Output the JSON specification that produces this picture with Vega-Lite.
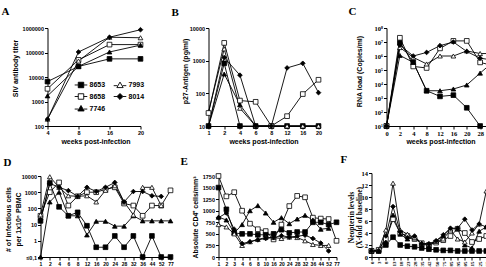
{
 "$schema": "https://vega.github.io/schema/vega-lite/v6.json",
 "padding": {"left": 1.5, "top": 5, "right": 0, "bottom": 0},
 "background": "white",
 "datasets": {
  "A": [
   {"w":4,"id":"8653","v":6500},{"w":8,"id":"8653","v":27000},{"w":16,"id":"8653","v":55000},{"w":20,"id":"8653","v":55000},
   {"w":4,"id":"8658","v":3300},{"w":8,"id":"8658","v":50000},{"w":16,"id":"8658","v":210000},{"w":20,"id":"8658","v":210000},
   {"w":4,"id":"7746","v":1700},{"w":8,"id":"7746","v":27000},{"w":16,"id":"7746","v":105000},{"w":20,"id":"7746","v":200000},
   {"w":4,"id":"7993","v":190},{"w":8,"id":"7993","v":45000},{"w":16,"id":"7993","v":420000},{"w":20,"id":"7993","v":400000},
   {"w":4,"id":"8014","v":190},{"w":8,"id":"8014","v":105000},{"w":16,"id":"8014","v":420000},{"w":20,"id":"8014","v":850000}
  ],
  "B": [
   {"w":1,"id":"8653","v":10},{"w":2,"id":"8653","v":830},{"w":4,"id":"8653","v":10},{"w":6,"id":"8653","v":10},{"w":8,"id":"8653","v":10},{"w":12,"id":"8653","v":10},{"w":16,"id":"8653","v":10},{"w":20,"id":"8653","v":10},
   {"w":1,"id":"7746","v":10},{"w":2,"id":"7746","v":390},{"w":4,"id":"7746","v":45},{"w":6,"id":"7746","v":10},{"w":8,"id":"7746","v":10},{"w":12,"id":"7746","v":10},{"w":16,"id":"7746","v":10},{"w":20,"id":"7746","v":10},
   {"w":1,"id":"7993","v":27},{"w":2,"id":"7993","v":2300},{"w":4,"id":"7993","v":35},{"w":6,"id":"7993","v":10},{"w":8,"id":"7993","v":10},{"w":12,"id":"7993","v":10},{"w":16,"id":"7993","v":10},{"w":20,"id":"7993","v":10},
   {"w":1,"id":"8658","v":25},{"w":2,"id":"8658","v":3500},{"w":4,"id":"8658","v":60},{"w":6,"id":"8658","v":55},{"w":8,"id":"8658","v":10},{"w":12,"id":"8658","v":20},{"w":16,"id":"8658","v":95},{"w":20,"id":"8658","v":260},
   {"w":1,"id":"8014","v":10},{"w":2,"id":"8014","v":1250},{"w":4,"id":"8014","v":360},{"w":6,"id":"8014","v":10},{"w":8,"id":"8014","v":10},{"w":12,"id":"8014","v":600},{"w":16,"id":"8014","v":830},{"w":20,"id":"8014","v":105}
  ],
  "C": [
   {"w":0,"id":"8653","v":10},{"w":2,"id":"8653","v":9000000},{"w":4,"id":"8653","v":350000},{"w":8,"id":"8653","v":3300},{"w":12,"id":"8653","v":1300},{"w":16,"id":"8653","v":1600},{"w":20,"id":"8653","v":200},{"w":28,"id":"8653","v":10},
   {"w":0,"id":"8658","v":10},{"w":2,"id":"8658","v":20000000},{"w":4,"id":"8658","v":180000},{"w":8,"id":"8658","v":140000},{"w":12,"id":"8658","v":3500000},{"w":16,"id":"8658","v":12000000},{"w":20,"id":"8658","v":12000000},{"w":28,"id":"8658","v":350000},{"w":36,"id":"8658","v":200000},
   {"w":0,"id":"7746","v":10},{"w":2,"id":"7746","v":1100000},{"w":4,"id":"7746","v":350000},{"w":8,"id":"7746","v":3300},{"w":12,"id":"7746","v":3300},{"w":16,"id":"7746","v":4400},{"w":20,"id":"7746","v":8500},{"w":28,"id":"7746","v":60000},{"w":36,"id":"7746","v":400000},
   {"w":0,"id":"7993","v":10},{"w":2,"id":"7993","v":4000000},{"w":4,"id":"7993","v":800000},{"w":8,"id":"7993","v":270000},{"w":12,"id":"7993","v":1000000},{"w":16,"id":"7993","v":1000000},{"w":20,"id":"7993","v":2300000},{"w":28,"id":"7993","v":1500000},{"w":36,"id":"7993","v":1500000},
   {"w":0,"id":"8014","v":10},{"w":2,"id":"8014","v":6000000},{"w":4,"id":"8014","v":1000000},{"w":8,"id":"8014","v":1800000},{"w":12,"id":"8014","v":5500000},{"w":16,"id":"8014","v":10000000},{"w":20,"id":"8014","v":2100000},{"w":28,"id":"8014","v":700000},{"w":36,"id":"8014","v":500000}
  ],
  "D": [
   {"w":1,"id":"8653","v":17},{"w":2,"id":"8653","v":3700},{"w":4,"id":"8653","v":125},{"w":6,"id":"8653","v":35},{"w":8,"id":"8653","v":57},{"w":12,"id":"8653","v":8.5},{"w":16,"id":"8653","v":0.4},{"w":20,"id":"8653","v":0.4},{"w":24,"id":"8653","v":2},{"w":28,"id":"8653","v":0.4},{"w":32,"id":"8653","v":2},{"w":36,"id":"8653","v":0.1},{"w":44,"id":"8653","v":2},{"w":52,"id":"8653","v":0.1},{"w":77,"id":"8653","v":0.1},
   {"w":1,"id":"8658","v":35},{"w":2,"id":"8658","v":1000},{"w":4,"id":"8658","v":4000},{"w":6,"id":"8658","v":150},{"w":8,"id":"8658","v":560},{"w":12,"id":"8658","v":1000},{"w":16,"id":"8658","v":1000},{"w":20,"id":"8658","v":1500},{"w":24,"id":"8658","v":2000},{"w":28,"id":"8658","v":200},{"w":32,"id":"8658","v":150},{"w":36,"id":"8658","v":35},{"w":44,"id":"8658","v":150},{"w":52,"id":"8658","v":150},{"w":77,"id":"8658","v":1300},
   {"w":1,"id":"7746","v":0.1},{"w":2,"id":"7746","v":250},{"w":4,"id":"7746","v":1000},{"w":6,"id":"7746","v":35},{"w":8,"id":"7746","v":35},{"w":12,"id":"7746","v":2.3},{"w":16,"id":"7746","v":16},{"w":20,"id":"7746","v":16},{"w":24,"id":"7746","v":8},{"w":28,"id":"7746","v":8},{"w":32,"id":"7746","v":35},{"w":36,"id":"7746","v":17},{"w":44,"id":"7746","v":17},{"w":52,"id":"7746","v":17},{"w":77,"id":"7746","v":17},
   {"w":1,"id":"7993","v":40},{"w":2,"id":"7993","v":9000},{"w":4,"id":"7993","v":2000},{"w":6,"id":"7993","v":600},{"w":8,"id":"7993","v":560},{"w":12,"id":"7993","v":600},{"w":16,"id":"7993","v":250},{"w":20,"id":"7993","v":1300},{"w":24,"id":"7993","v":2500},{"w":28,"id":"7993","v":250},{"w":32,"id":"7993","v":40},{"w":36,"id":"7993","v":2000},{"w":44,"id":"7993","v":2000},{"w":52,"id":"7993","v":150},
   {"w":1,"id":"8014","v":20},{"w":2,"id":"8014","v":3500},{"w":4,"id":"8014","v":2000},{"w":6,"id":"8014","v":1250},{"w":8,"id":"8014","v":560},{"w":12,"id":"8014","v":2000},{"w":16,"id":"8014","v":1100},{"w":20,"id":"8014","v":2000},{"w":24,"id":"8014","v":4000},{"w":28,"id":"8014","v":250},{"w":32,"id":"8014","v":1100},{"w":36,"id":"8014","v":1100},{"w":44,"id":"8014","v":600},{"w":52,"id":"8014","v":550}
  ],
  "E": [
   {"w":1,"id":"8658","v":1750},{"w":2,"id":"8658","v":1310},{"w":3,"id":"8658","v":1400},{"w":4,"id":"8658","v":1000},{"w":6,"id":"8658","v":720},{"w":8,"id":"8658","v":600},{"w":10,"id":"8658","v":560},{"w":16,"id":"8658","v":380},{"w":20,"id":"8658","v":700},{"w":24,"id":"8658","v":1100},{"w":28,"id":"8658","v":1320},{"w":32,"id":"8658","v":1290},{"w":36,"id":"8658","v":850},{"w":44,"id":"8658","v":830},{"w":52,"id":"8658","v":820},{"w":77,"id":"8658","v":350},
   {"w":1,"id":"8653","v":1500},{"w":2,"id":"8653","v":1030},{"w":3,"id":"8653","v":520},{"w":4,"id":"8653","v":500},{"w":6,"id":"8653","v":500},{"w":8,"id":"8653","v":480},{"w":10,"id":"8653","v":480},{"w":16,"id":"8653","v":500},{"w":20,"id":"8653","v":590},{"w":24,"id":"8653","v":520},{"w":28,"id":"8653","v":540},{"w":32,"id":"8653","v":540},{"w":36,"id":"8653","v":750},{"w":44,"id":"8653","v":750},{"w":52,"id":"8653","v":700},{"w":77,"id":"8653","v":750},
   {"w":1,"id":"7746","v":860},{"w":2,"id":"7746","v":800},{"w":3,"id":"7746","v":520},{"w":4,"id":"7746","v":700},{"w":6,"id":"7746","v":1000},{"w":8,"id":"7746","v":1110},{"w":10,"id":"7746","v":950},{"w":16,"id":"7746","v":750},{"w":20,"id":"7746","v":850},{"w":24,"id":"7746","v":720},{"w":28,"id":"7746","v":820},{"w":32,"id":"7746","v":900},{"w":36,"id":"7746","v":800},{"w":44,"id":"7746","v":600},{"w":52,"id":"7746","v":620},
   {"w":1,"id":"7993","v":700},{"w":2,"id":"7993","v":650},{"w":3,"id":"7993","v":500},{"w":4,"id":"7993","v":250},{"w":6,"id":"7993","v":330},{"w":8,"id":"7993","v":380},{"w":10,"id":"7993","v":420},{"w":16,"id":"7993","v":420},{"w":20,"id":"7993","v":400},{"w":24,"id":"7993","v":430},{"w":28,"id":"7993","v":420},{"w":32,"id":"7993","v":350},{"w":36,"id":"7993","v":270},{"w":44,"id":"7993","v":250},{"w":52,"id":"7993","v":250},
   {"w":1,"id":"8014","v":850},{"w":2,"id":"8014","v":950},{"w":3,"id":"8014","v":600},{"w":4,"id":"8014","v":290},{"w":6,"id":"8014","v":330},{"w":8,"id":"8014","v":370},{"w":10,"id":"8014","v":400},{"w":16,"id":"8014","v":420},{"w":20,"id":"8014","v":460},{"w":24,"id":"8014","v":430},{"w":28,"id":"8014","v":450},{"w":32,"id":"8014","v":470},{"w":36,"id":"8014","v":400},{"w":44,"id":"8014","v":300},{"w":52,"id":"8014","v":130}
  ],
  "F": [
   {"w":0,"id":"8653","v":1},{"w":3,"id":"8653","v":1},{"w":8,"id":"8653","v":2},{"w":13,"id":"8653","v":3.3},{"w":18,"id":"8653","v":2},{"w":23,"id":"8653","v":1.8},{"w":28,"id":"8653","v":1.7},{"w":35,"id":"8653","v":1.5},{"w":42,"id":"8653","v":1.3},{"w":50,"id":"8653","v":1.2},{"w":75,"id":"8653","v":1.1},{"w":85,"id":"8653","v":1.1},{"w":95,"id":"8653","v":1},{"w":105,"id":"8653","v":1},{"w":115,"id":"8653","v":1},{"w":125,"id":"8653","v":1},{"w":135,"id":"8653","v":1},{"w":145,"id":"8653","v":1},
   {"w":0,"id":"8658","v":1},{"w":3,"id":"8658","v":1.2},{"w":8,"id":"8658","v":3},{"w":13,"id":"8658","v":6.3},{"w":18,"id":"8658","v":4},{"w":23,"id":"8658","v":3.5},{"w":28,"id":"8658","v":3},{"w":35,"id":"8658","v":2.3},{"w":42,"id":"8658","v":2},{"w":50,"id":"8658","v":2.4},{"w":75,"id":"8658","v":2.8},{"w":85,"id":"8658","v":3.5},{"w":95,"id":"8658","v":4.7},{"w":105,"id":"8658","v":4},{"w":115,"id":"8658","v":2.5},{"w":125,"id":"8658","v":3},{"w":135,"id":"8658","v":3.5},{"w":145,"id":"8658","v":4},
   {"w":0,"id":"7746","v":1},{"w":3,"id":"7746","v":1},{"w":8,"id":"7746","v":2.5},{"w":13,"id":"7746","v":7},{"w":18,"id":"7746","v":3.8},{"w":23,"id":"7746","v":3},{"w":28,"id":"7746","v":3.2},{"w":35,"id":"7746","v":2.3},{"w":42,"id":"7746","v":1.8},{"w":50,"id":"7746","v":2.7},{"w":75,"id":"7746","v":3.5},{"w":85,"id":"7746","v":4.7},{"w":95,"id":"7746","v":4.7},{"w":105,"id":"7746","v":2},{"w":115,"id":"7746","v":1.5},{"w":125,"id":"7746","v":4.3},{"w":135,"id":"7746","v":5},{"w":145,"id":"7746","v":5},
   {"w":0,"id":"7993","v":1},{"w":3,"id":"7993","v":1.2},{"w":8,"id":"7993","v":4.5},{"w":13,"id":"7993","v":12.3},{"w":18,"id":"7993","v":4.5},{"w":23,"id":"7993","v":3.8},{"w":28,"id":"7993","v":3.2},{"w":35,"id":"7993","v":2.3},{"w":42,"id":"7993","v":2.2},{"w":50,"id":"7993","v":2.6},{"w":75,"id":"7993","v":3},{"w":85,"id":"7993","v":4.5},{"w":95,"id":"7993","v":3},{"w":105,"id":"7993","v":2.5},{"w":115,"id":"7993","v":4},{"w":125,"id":"7993","v":5.5},{"w":135,"id":"7993","v":11},{"w":145,"id":"7993","v":12},
   {"w":0,"id":"8014","v":1},{"w":3,"id":"8014","v":1},{"w":8,"id":"8014","v":3.5},{"w":13,"id":"8014","v":8.4},{"w":18,"id":"8014","v":4.2},{"w":23,"id":"8014","v":3.2},{"w":28,"id":"8014","v":3.5},{"w":35,"id":"8014","v":2.2},{"w":42,"id":"8014","v":2.2},{"w":50,"id":"8014","v":2.7},{"w":75,"id":"8014","v":3.7},{"w":85,"id":"8014","v":4.8},{"w":95,"id":"8014","v":4.8},{"w":105,"id":"8014","v":6.3},{"w":115,"id":"8014","v":4.5},{"w":125,"id":"8014","v":5.5},{"w":135,"id":"8014","v":5},{"w":145,"id":"8014","v":5}
  ]
 },
 "vconcat": [
  {
   "hconcat": [
    {
     "width": 100, "height": 98,
     "title": {"text": "A", "dx": -39, "dy": -4.5},
     "data": {"name": "A"},
     "encoding": {
      "x": {"field": "w", "type": "ordinal", "scale": {"type": "point", "padding": 0, "domain": [4, 8, 16, 20], "range": [7, 100]}, "axis": {"title": "weeks post-infection", "titleX": 55, "titleY": 15, "titleBaseline": "middle"}},
      "y": {"field": "v", "type": "quantitative", "scale": {"type": "log", "domain": [100, 1000000], "nice": false}, "axis": {"title": "SIV antibody titer", "values": [100, 1000, 10000, 100000, 1000000], "format": "d", "offset": -7, "titleX": -32, "titleY": 40, "titleBaseline": "middle"}}
     },
     "layer": [
      {"mark": {"type": "line", "stroke": "black", "strokeWidth": 0.9}, "encoding": {"detail": {"field": "id"}}},
      {"mark": {"type": "point", "filled": true, "stroke": "black", "strokeWidth": 0.8, "size": 22, "opacity": 1},
       "encoding": {
        "shape": {"field": "id", "type": "nominal", "scale": {"domain": ["8653", "8658", "7746", "7993", "8014"], "range": ["square", "square", "triangle-up", "triangle-up", "diamond"]}, "legend": null},
        "fill": {"field": "id", "type": "nominal", "scale": {"domain": ["8653", "8658", "7746", "7993", "8014"], "range": ["black", "white", "black", "white", "black"]}, "legend": null}
       }},
      {"transform": [{"filter": "false"}],
       "mark": {"type": "point", "filled": false, "strokeWidth": 0.9, "size": 30, "opacity": 1},
       "encoding": {
        "stroke": {"field": "id", "type": "nominal", "scale": {"domain": ["8653", "8658", "7746", "7993", "8014"], "range": ["black", "black", "black", "black", "black"]},
         "legend": {"orient": "none", "legendX": 37, "legendY": 53, "columns": 2, "columnPadding": 6, "rowPadding": 1, "title": null, "symbolSize": 30, "symbolStrokeWidth": 0.9, "labelFont": "Liberation Sans", "labelFontSize": 7, "labelFontWeight": "bold", "labelColor": "black", "labelOffset": 5}},
        "shape": {"field": "id", "type": "nominal", "scale": {"domain": ["8653", "8658", "7746", "7993", "8014"], "range": ["M-2.3,0H-1M1,0H2.3M-1,-1H1V1H-1Z", "M-2.3,0H-1M1,0H2.3M-1,-1H1V1H-1Z", "M-2.3,0.2H-0.95M0.95,0.2H2.3M0,-1.1L1.15,0.9H-1.15Z", "M-2.3,0.2H-0.95M0.95,0.2H2.3M0,-1.1L1.15,0.9H-1.15Z", "M-2.3,0H-1.1M1.1,0H2.3M0,-1.1L1.1,0L0,1.1L-1.1,0Z"]},
         "legend": {"orient": "none", "legendX": 37, "legendY": 53, "columns": 2, "columnPadding": 6, "rowPadding": 1, "title": null, "symbolSize": 30, "symbolStrokeWidth": 0.9, "labelFont": "Liberation Sans", "labelFontSize": 7, "labelFontWeight": "bold", "labelColor": "black", "labelOffset": 5}},
        "fill": {"field": "id", "type": "nominal", "scale": {"domain": ["8653", "8658", "7746", "7993", "8014"], "range": ["black", "white", "black", "white", "black"]},
         "legend": {"orient": "none", "legendX": 37, "legendY": 53, "columns": 2, "columnPadding": 6, "rowPadding": 1, "title": null, "symbolSize": 30, "symbolStrokeWidth": 0.9, "labelFont": "Liberation Sans", "labelFontSize": 7, "labelFontWeight": "bold", "labelColor": "black", "labelOffset": 5}}
       }}
     ],
     "resolve": {"scale": {"shape": "independent", "fill": "independent", "stroke": "independent"}, "legend": {"shape": "independent", "fill": "independent", "stroke": "independent"}}
    },
    {
     "width": 110, "height": 98,
     "title": {"text": "B", "dx": -37, "dy": -4.5},
     "data": {"name": "B"},
     "encoding": {
      "x": {"field": "w", "type": "ordinal", "scale": {"type": "point", "padding": 0, "domain": [1, 2, 4, 6, 8, 12, 16, 20]}, "axis": {"title": "weeks post-infection", "titleY": 15, "titleBaseline": "middle"}},
      "y": {"field": "v", "type": "quantitative", "scale": {"type": "log", "domain": [10, 10000], "nice": false}, "axis": {"title": "p27-Antigen (pg/ml)", "values": [10, 100, 1000, 10000], "format": "d", "titleX": -23, "titleY": 43, "titleBaseline": "middle"}}
     },
     "layer": [
      {"mark": {"type": "line", "stroke": "black", "strokeWidth": 0.9}, "encoding": {"detail": {"field": "id"}}},
      {"mark": {"type": "point", "filled": true, "stroke": "black", "strokeWidth": 0.8, "size": 22, "opacity": 1},
       "encoding": {
        "shape": {"field": "id", "type": "nominal", "scale": {"domain": ["8653", "8658", "7746", "7993", "8014"], "range": ["square", "square", "triangle-up", "triangle-up", "diamond"]}, "legend": null},
        "fill": {"field": "id", "type": "nominal", "scale": {"domain": ["8653", "8658", "7746", "7993", "8014"], "range": ["black", "white", "black", "white", "black"]}, "legend": null}
       }}
     ]
    },
    {
     "width": 107, "height": 98,
     "title": {"text": "C", "dx": -38, "dy": -4.5},
     "data": {"name": "C"},
     "encoding": {
      "x": {"field": "w", "type": "ordinal", "scale": {"type": "point", "padding": 0, "domain": [0, 2, 4, 8, 12, 16, 20, 28, 36]}, "axis": {"title": "weeks post-infection", "titleX": 54, "titleY": 15, "titleBaseline": "middle", "labelFont": "Liberation Serif", "labelFontSize": 6.5}},
      "y": {"field": "v", "type": "quantitative", "scale": {"type": "log", "domain": [10, 100000000], "nice": false}, "axis": {"title": "RNA load (Copies/ml)", "values": [10, 100, 1000, 10000, 100000, 1000000, 10000000, 100000000], "labelExpr": "'10' + ['⁰','¹','²','³','⁴','⁵','⁶','⁷','⁸'][round(log(datum.value)/LN10)]", "labelFont": "Liberation Serif", "labelFontSize": 6.5, "titleX": -27, "titleY": 43, "titleBaseline": "middle"}}
     },
     "layer": [
      {"mark": {"type": "line", "stroke": "black", "strokeWidth": 0.9}, "encoding": {"detail": {"field": "id"}}},
      {"mark": {"type": "point", "filled": true, "stroke": "black", "strokeWidth": 0.8, "size": 22, "opacity": 1},
       "encoding": {
        "shape": {"field": "id", "type": "nominal", "scale": {"domain": ["8653", "8658", "7746", "7993", "8014"], "range": ["square", "square", "triangle-up", "triangle-up", "diamond"]}, "legend": null},
        "fill": {"field": "id", "type": "nominal", "scale": {"domain": ["8653", "8658", "7746", "7993", "8014"], "range": ["black", "white", "black", "white", "black"]}, "legend": null}
       }}
     ]
    }
   ],
   "spacing": 68,
   "bounds": "flush"
  },
  {
   "hconcat": [
    {
     "width": 143, "height": 81,
     "title": {"text": "D", "dx": -37, "dy": -1.5},
     "data": {"name": "D"},
     "encoding": {
      "x": {"field": "w", "type": "ordinal", "scale": {"type": "point", "padding": 0, "domain": [1, 2, 4, 6, 8, 12, 16, 20, 24, 28, 32, 36, 44, 52, 77], "range": [0, 130]}, "axis": {"title": null, "labelFontSize": 5}},
      "y": {"field": "v", "type": "quantitative", "scale": {"type": "log", "domain": [0.1, 10000], "nice": false}, "axis": {"title": ["# of infectious cells", "per 1x10⁶ PBMC"], "values": [0.1, 1, 10, 100, 1000, 10000], "format": "d", "labelExpr": "datum.value < 0.5 ? '≤0,1' : datum.label", "titleX": -32, "titleY": 43, "titleBaseline": "middle", "titleLineHeight": 10}}
     },
     "layer": [
      {"mark": {"type": "line", "stroke": "black", "strokeWidth": 0.9}, "encoding": {"detail": {"field": "id"}}},
      {"mark": {"type": "point", "filled": true, "stroke": "black", "strokeWidth": 0.8, "size": 22, "opacity": 1},
       "encoding": {
        "shape": {"field": "id", "type": "nominal", "scale": {"domain": ["8653", "8658", "7746", "7993", "8014"], "range": ["square", "square", "triangle-up", "triangle-up", "diamond"]}, "legend": null},
        "fill": {"field": "id", "type": "nominal", "scale": {"domain": ["8653", "8658", "7746", "7993", "8014"], "range": ["black", "white", "black", "white", "black"]}, "legend": null}
       }}
     ]
    },
    {
     "width": 118, "height": 81,
     "title": {"text": "E", "dx": -38, "dy": -1.5},
     "data": {"name": "E"},
     "encoding": {
      "x": {"field": "w", "type": "ordinal", "scale": {"type": "point", "padding": 0, "domain": [1, 2, 3, 4, 6, 8, 10, 16, 20, 24, 28, 32, 36, 44, 52, 77]}, "axis": {"title": null, "labelFontSize": 5}},
      "y": {"field": "v", "type": "quantitative", "scale": {"domain": [0, 1750], "nice": false}, "axis": {"title": "Absolute CD4⁺ cells/mm³", "values": [0, 250, 500, 750, 1000, 1250, 1500, 1750], "format": "d", "titleX": -23, "titleY": 41, "titleBaseline": "middle"}}
     },
     "layer": [
      {"mark": {"type": "line", "stroke": "black", "strokeWidth": 0.9}, "encoding": {"detail": {"field": "id"}}},
      {"mark": {"type": "point", "filled": true, "stroke": "black", "strokeWidth": 0.8, "size": 22, "opacity": 1},
       "encoding": {
        "shape": {"field": "id", "type": "nominal", "scale": {"domain": ["8653", "8658", "7746", "7993", "8014"], "range": ["square", "square", "triangle-up", "triangle-up", "diamond"]}, "legend": null},
        "fill": {"field": "id", "type": "nominal", "scale": {"domain": ["8653", "8658", "7746", "7993", "8014"], "range": ["black", "white", "black", "white", "black"]}, "legend": null}
       }}
     ]
    },
    {
     "width": 122, "height": 81,
     "title": {"text": "F", "dx": -31, "dy": -1.5},
     "data": {"name": "F"},
     "encoding": {
      "x": {"field": "w", "type": "ordinal", "scale": {"type": "point", "padding": 0, "domain": [0, 3, 8, 13, 18, 23, 28, 35, 42, 50, 75, 85, 95, 105, 115, 125, 135, 145]}, "axis": {"title": null, "labelAngle": -90, "labelFont": "Liberation Serif", "labelFontSize": 5}},
      "y": {"field": "v", "type": "quantitative", "scale": {"domain": [0, 14], "nice": false, "range": [81, -3]}, "axis": {"title": ["Neopterin levels", "(X-fold of baseline)"], "titleFont": "Liberation Serif", "titleFontSize": 7.5, "values": [0, 2, 4, 6, 8, 10, 12, 14], "format": "d", "labelFont": "Liberation Serif", "labelFontSize": 6.5, "titleX": -20.5, "titleY": 41, "titleBaseline": "middle", "titleLineHeight": 8.5}}
     },
     "layer": [
      {"mark": {"type": "line", "stroke": "black", "strokeWidth": 0.9}, "encoding": {"detail": {"field": "id"}}},
      {"mark": {"type": "point", "filled": true, "stroke": "black", "strokeWidth": 0.8, "size": 22, "opacity": 1},
       "encoding": {
        "shape": {"field": "id", "type": "nominal", "scale": {"domain": ["8653", "8658", "7746", "7993", "8014"], "range": ["square", "square", "triangle-up", "triangle-up", "diamond"]}, "legend": null},
        "fill": {"field": "id", "type": "nominal", "scale": {"domain": ["8653", "8658", "7746", "7993", "8014"], "range": ["black", "white", "black", "white", "black"]}, "legend": null}
       }}
     ]
    }
   ],
   "spacing": 35,
   "bounds": "flush"
  }
 ],
 "spacing": 148,
 "bounds": "flush",
 "config": {
  "view": {"stroke": null},
  "font": "Liberation Sans",
  "axis": {"grid": false, "domainColor": "black", "domainWidth": 1, "tickColor": "black", "tickWidth": 1, "tickSize": 3, "labelColor": "black", "labelFont": "Liberation Sans", "labelFontWeight": "bold", "labelFontSize": 5.5, "labelPadding": 1, "labelOverlap": false, "labelFlush": false, "titleColor": "black", "titleFont": "Liberation Sans", "titleFontWeight": "bold", "titleFontSize": 7},
  "axisX": {"labelAngle": 0},
  "title": {"font": "Liberation Serif", "fontSize": 11, "fontWeight": "bold", "color": "black", "anchor": "start", "frame": "group", "offset": 0, "baseline": "alphabetic"}
 }
}
